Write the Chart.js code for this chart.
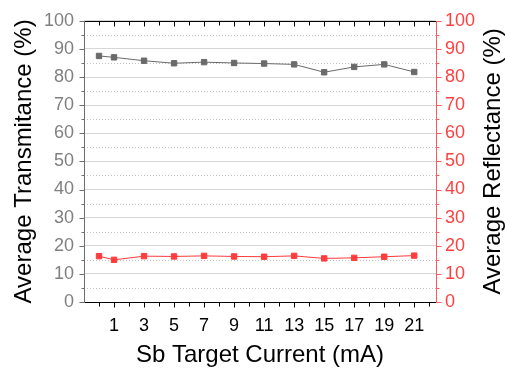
<!DOCTYPE html>
<html>
<head>
<meta charset="utf-8">
<script src="https://cdn.jsdelivr.net/npm/chart.js@4"></script>
<style>
html, body { margin: 0; padding: 0; background: #fff; }
</style>
</head>
<body>
<canvas id="myChart" width="505" height="372"></canvas>
<script>
// values
var current = [0, 1, 3, 5, 7, 9, 11, 13, 15, 17, 19, 21];
var transmittance = [87.5, 87.0, 85.8, 84.9, 85.3, 85.0, 84.8, 84.5, 81.7, 83.6, 84.5, 81.8];
var reflectance = [16.3, 15.0, 16.3, 16.2, 16.4, 16.2, 16.1, 16.4, 15.5, 15.7, 16.1, 16.5];
var xTickLabels = [1, 3, 5, 7, 9, 11, 13, 15, 17, 19, 21];

var FONT = "'Liberation Sans', Arial, sans-serif";

function toPoints(xs, ys) {
    var pts = [];
    for (var i = 0; i < xs.length; i++) {
        pts.push({ x: xs[i], y: ys[i] });
    }
    return pts;
}

// frame, tick marks, minor grid and right title
var framePlugin = {
    id: 'frame',
    beforeDatasetsDraw: function (chart) {
        var ctx = chart.ctx, a = chart.chartArea, y = chart.scales.y;
        ctx.save();
        ctx.strokeStyle = '#c4c4c4';
        ctx.lineWidth = 1;
        ctx.setLineDash([1, 2]);
        for (var v = 5; v < 100; v += 10) {
            var py = Math.round(y.getPixelForValue(v)) + 0.5;
            ctx.beginPath();
            ctx.moveTo(a.left, py);
            ctx.lineTo(a.right, py);
            ctx.stroke();
        }
        ctx.restore();
    },
    afterDraw: function (chart) {
        var ctx = chart.ctx, a = chart.chartArea;
        var x = chart.scales.x, y = chart.scales.y;
        var L = Math.round(a.left) + 0.5, R = Math.round(a.right) + 0.5;
        var T = Math.round(a.top) + 0.5, B = Math.round(a.bottom) + 0.5;
        ctx.save();
        ctx.lineWidth = 1;

        // top and bottom (black)
        ctx.strokeStyle = '#000';
        ctx.beginPath();
        ctx.moveTo(L, T); ctx.lineTo(R, T);
        ctx.moveTo(L, B); ctx.lineTo(R, B);
        for (var i = 0; i <= 22; i++) {
            var px = Math.round(x.getPixelForValue(i)) + 0.5;
            var len = (i % 2 === 1) ? 5 : 4;
            ctx.moveTo(px, T); ctx.lineTo(px, T + len);
            ctx.moveTo(px, B); ctx.lineTo(px, B + len);
        }
        ctx.stroke();

        // left axis (gray)
        ctx.strokeStyle = '#6e6e6e';
        ctx.beginPath();
        ctx.moveTo(L, T); ctx.lineTo(L, B);
        for (var v = 0; v <= 100; v += 5) {
            var py = Math.round(y.getPixelForValue(v)) + 0.5;
            ctx.moveTo(L, py); ctx.lineTo(L - (v % 10 === 0 ? 5 : 3), py);
        }
        ctx.stroke();

        // right axis (red)
        ctx.strokeStyle = '#ff5a5a';
        ctx.beginPath();
        ctx.moveTo(R, T); ctx.lineTo(R, B);
        for (var w = 0; w <= 100; w += 5) {
            var qy = Math.round(y.getPixelForValue(w)) + 0.5;
            ctx.moveTo(R, qy); ctx.lineTo(R + (w % 10 === 0 ? 5 : 3), qy);
        }
        ctx.stroke();

        // right title, reading bottom to top
        ctx.fillStyle = '#000';
        ctx.font = '24px ' + FONT;
        ctx.textAlign = 'center';
        ctx.textBaseline = 'middle';
        ctx.translate(493, (a.top + a.bottom) / 2);
        ctx.rotate(-Math.PI / 2);
        ctx.fillText('Average Reflectance (%)', 0, 0);
        ctx.restore();
    }
};

var ctx = document.getElementById('myChart').getContext('2d');
var chart = new Chart(ctx, {
    type: 'line',
    data: {
        datasets: [{
            label: 'Transmittance',
            data: toPoints(current, transmittance),
            yAxisID: 'y',
            borderColor: '#6a6a6a',
            backgroundColor: '#6a6a6a',
            borderWidth: 1,
            pointStyle: 'rect',
            pointRadius: 3.8,
            pointBorderWidth: 1,
            tension: 0
        }, {
            label: 'Reflectance',
            data: toPoints(current, reflectance),
            yAxisID: 'y2',
            borderColor: '#ff3b3b',
            backgroundColor: '#ff3b3b',
            borderWidth: 1,
            pointStyle: 'rect',
            pointRadius: 3.8,
            pointBorderWidth: 1,
            tension: 0
        }]
    },
    options: {
        responsive: false,
        animation: false,
        devicePixelRatio: 1,
        layout: { padding: { top: 19, left: 0, right: 0, bottom: 0 } },
        plugins: {
            legend: { display: false },
            tooltip: { enabled: false }
        },
        scales: {
            x: {
                type: 'linear',
                min: -1,
                max: 22.45,
                afterBuildTicks: function (scale) {
                    scale.ticks = xTickLabels.map(function (v) { return { value: v }; });
                },
                afterFit: function (scale) { scale.height = 70; },
                grid: { display: false },
                border: { display: false },
                ticks: {
                    autoSkip: false,
                    maxRotation: 0,
                    padding: 5,
                    color: '#000',
                    font: { family: FONT, size: 18 }
                },
                title: {
                    display: true,
                    text: 'Sb Target Current (mA)',
                    color: '#000',
                    font: { family: FONT, size: 24 },
                    padding: { top: 0, bottom: 2 }
                }
            },
            y: {
                position: 'left',
                min: 0,
                max: 100,
                afterFit: function (scale) { scale.width = 84; },
                grid: { color: '#d6d6d6', drawTicks: false },
                border: { display: false },
                ticks: {
                    stepSize: 10,
                    padding: 10,
                    color: '#808080',
                    font: { family: FONT, size: 18 }
                },
                title: {
                    display: true,
                    text: 'Average Transmitance (%)',
                    color: '#000',
                    font: { family: FONT, size: 24 },
                    padding: { top: 10, bottom: 0 }
                }
            },
            y2: {
                position: 'right',
                min: 0,
                max: 100,
                afterFit: function (scale) { scale.width = 69; },
                grid: { drawOnChartArea: false, drawTicks: false },
                border: { display: false },
                ticks: {
                    stepSize: 10,
                    padding: 9,
                    color: '#ff4040',
                    font: { family: FONT, size: 18 }
                }
            }
        }
    },
    plugins: [framePlugin]
});
</script>
</body>
</html>
